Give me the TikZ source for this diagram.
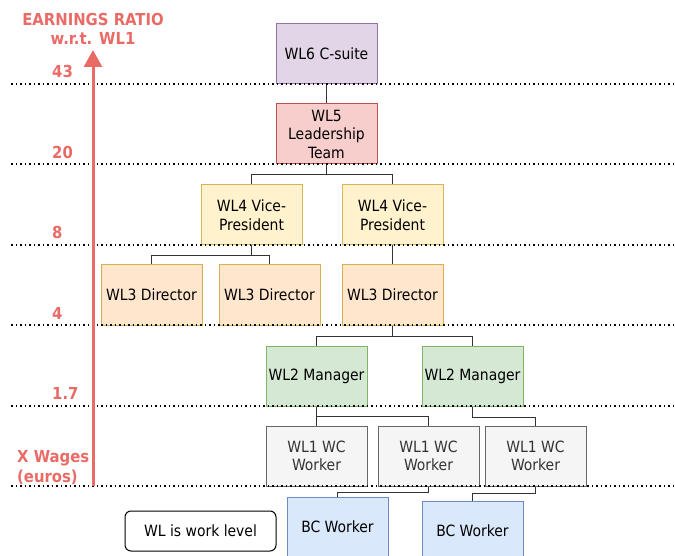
\documentclass[tikz,border=0pt]{standalone}
\usepackage{fontspec}
\setmainfont{DejaVu Sans Condensed}
\usetikzlibrary{arrows.meta,positioning,calc}

\begin{document}
\begin{tikzpicture}[x=1pt,y=-1pt]
\definecolor{ratio red}{HTML}{EA6B66}
\definecolor{suite fill}{HTML}{E1D5E7}
\definecolor{suite edge}{HTML}{9673A6}
\definecolor{lead fill}{HTML}{F8CECC}
\definecolor{lead edge}{HTML}{B85450}
\definecolor{vp fill}{HTML}{FFF2CC}
\definecolor{vp edge}{HTML}{D6B656}
\definecolor{dir fill}{HTML}{FFE6CC}
\definecolor{dir edge}{HTML}{D7B14A}
\definecolor{man fill}{HTML}{D5E8D4}
\definecolor{man edge}{HTML}{82B366}
\definecolor{wc fill}{HTML}{F5F5F5}
\definecolor{wc edge}{HTML}{666666}
\definecolor{bc fill}{HTML}{DAE8FC}
\definecolor{bc edge}{HTML}{6C8EBF}
\tikzset{
     level/.style={line width=1pt, minimum width=101pt, minimum height=60pt, inner sep=0pt,
                   align=center, font=\fontsize{15.5}{18.5}\selectfont},
     link/.style={draw=black!80, line width=1pt},
     cut/.style={draw=black, line width=1.5pt, dash pattern=on 1.5pt off 3pt},
     ratio/.style={text=ratio red, font=\fontsize{16.5}{19.5}\selectfont\bfseries, inner sep=0pt}}

\useasboundingbox (0,0) rectangle (675,556);
\clip (0,0) rectangle (675,556);

% The boxes
\node (wlsix)  [level, fill=suite fill, draw=suite edge] at (326.5,54) {WL6 C-suite};
\node (wlfive) [level, fill=lead fill, draw=lead edge] at (326.5,134) {WL5\\Leadership\\Team};

\node (vpa) [level, fill=vp fill, draw=vp edge] at (251.5,215) {WL4 Vice-\\President};
\node (vpb) [level, fill=vp fill, draw=vp edge] at (392.5,215) {WL4 Vice-\\President};

\node (dira) [level, fill=dir fill, draw=dir edge] at (151.5,295) {WL3 Director};
\node (dirb) [level, fill=dir fill, draw=dir edge, right=16pt of dira] {WL3 Director};
\node (dirc) [level, fill=dir fill, draw=dir edge] at (392.5,295) {WL3 Director};

\node (mana) [level, fill=man fill, draw=man edge] at (316.5,376) {WL2 Manager};
\node (manb) [level, fill=man fill, draw=man edge] at (472.5,376) {WL2 Manager};

\node (wca) [level, fill=wc fill, draw=wc edge, text=black!80] at (316.5,456) {WL1 WC\\Worker};
\node (wcb) [level, fill=wc fill, draw=wc edge, text=black!80, right=10pt of wca] {WL1 WC\\Worker};
\node (wcc) [level, fill=wc fill, draw=wc edge, text=black!80, right=5pt of wcb] {WL1 WC\\Worker};

\node (bca) [level, fill=bc fill, draw=bc edge] at (337.5,527) {BC Worker};
\node (bcb) [level, fill=bc fill, draw=bc edge] at (472.5,531) {BC Worker};

\node (legend) [draw, line width=1pt, rounded corners=6pt, minimum width=151pt, minimum height=40pt,
                font=\fontsize{15.5}{18.5}\selectfont] at (200.5,531) {WL is work level};

% The links
\draw [link] (wlsix) -- (wlfive);
\draw [link] (wlfive.south) -- ++(0,10) -| (vpa.north);
\draw [link] (wlfive.south) -- ++(0,10) -| (vpb.north);
\draw [link] (vpa.south) -- ++(0,10) -| (dira.north);
\draw [link] (vpa.south) -- ++(0,10) -| (dirb.north);
\draw [link] (vpb) -- (dirc);
\draw [link] (dirc.south) -- ++(0,11) -| (mana.north);
\draw [link] (dirc.south) -- ++(0,11) -| (manb.north);
\draw [link] (mana.south) -- ++(0,10) -| (wca.north);
\draw [link] (mana.south) -- ++(0,10) -| (wcb.north);
\draw [link] (manb.south) -- ++(0,11) -| (wcc.north);
\draw [link] (wcb.south) -- ++(0,6) -| (bca.north);
\draw [link] (wcc.south) -- ++(0,7) -| (bcb.north);

% The level lines
\foreach \y in {84,164,245,325,406,486}
  \draw [cut] (11,\y) -- (675,\y);

% The ratio axis
\coordinate (axisbottom) at (93,486);
\coordinate (axistop) at (93,50);
\draw [ratio red, line width=3pt, -{Triangle[length=17pt,width=18pt]}] (axisbottom) -- (axistop);

\node (title) [ratio, align=center] at (93,29) {EARNINGS RATIO\\w.r.t. WL1};
\node (rsix)  [ratio, anchor=west] at (52,71) {43};
\node (rfive) [ratio, anchor=west] at (52,152) {20};
\node (rfour) [ratio, anchor=west] at (52,232) {8};
\node (rthree)[ratio, anchor=west] at (52,313) {4};
\node (rtwo)  [ratio, anchor=west] at (52,393) {1.7};
\node (rone)  [ratio, anchor=west, align=left] at (17,467.5) {X Wages\\(euros)};
\end{tikzpicture}
\end{document}
